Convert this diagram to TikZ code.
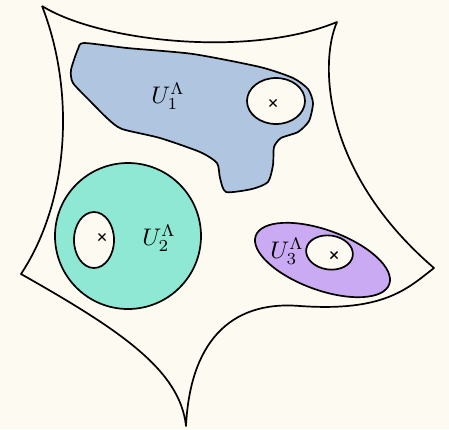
\documentclass[tikz,border=0pt]{standalone}
\begin{document}
\begin{tikzpicture}[x=1pt,y=-1pt,
  outline/.style={line width=1.7pt, line join=round},
  hole/.style={outline, fill=bgcream},
  lbl/.style={inner sep=0pt, scale=2.4},
  xmark/.style={line width=1.4pt}]
\definecolor{bgcream}{RGB}{253,250,242}
\definecolor{ublue}{RGB}{176,197,224}
\definecolor{ugreen}{RGB}{142,232,212}
\definecolor{upurple}{RGB}{202,170,242}
\fill[bgcream] (0,0) rectangle (449,429);
\useasboundingbox (0,0) rectangle (449,429);
% outer region
\draw[outline] (42,6) .. controls (100,42) and (250,58) .. (337,22)
  .. controls (320,60) and (320,170) .. (434,268)
  .. controls (408,288) and (385,312) .. (300,306)
  .. controls (228,300) and (190,345) .. (186,426)
  .. controls (180,370) and (120,330) .. (21,274)
  .. controls (70,200) and (75,90) .. (42,6);
% U1
\draw[outline, fill=ublue] plot[smooth cycle, tension=0.4] coordinates {
  (84,43) (127,48) (193,54) (260,67) (293,78) (308,89) (313,103) (309,121)
  (298,132) (281,138) (274,147) (273,165) (268,182) (252,189) (226,192)
  (220,178) (217,163) (200,152) (160,138) (122,129) (108,119) (90,101)
  (73,83) (71,70) (78,49)};
\draw[hole] (276,101) ellipse [x radius=29pt, y radius=23pt];
% U2
\draw[outline, fill=ugreen] (128,236) circle [radius=73pt];
\draw[hole] (94,240) ellipse [x radius=20pt, y radius=28pt];
% U3
\draw[outline, fill=upurple, shift={(322.5,260)}, rotate=-20] (0,0) ellipse [x radius=71pt, y radius=30pt];
\draw[hole, shift={(329.5,252.5)}, rotate=-8] (0,0) ellipse [x radius=23.5pt, y radius=17pt];
% marks
\coordinate (x1) at (273,103);
\coordinate (x2) at (102,237);
\coordinate (x3) at (334,255);
\foreach \c in {x1,x2,x3}{
  \draw[xmark] ([shift={(-3.5,-3.5)}]\c) -- ([shift={(3.5,3.5)}]\c);
  \draw[xmark] ([shift={(-3.5,3.5)}]\c) -- ([shift={(3.5,-3.5)}]\c);
}
% labels
\node[lbl] (l1) at (168,96) {$U_1^\Lambda$};
\node[lbl] (l2) at (159,238) {$U_2^\Lambda$};
\node[lbl] (l3) at (287,251) {$U_3^\Lambda$};
\end{tikzpicture}
\end{document}
